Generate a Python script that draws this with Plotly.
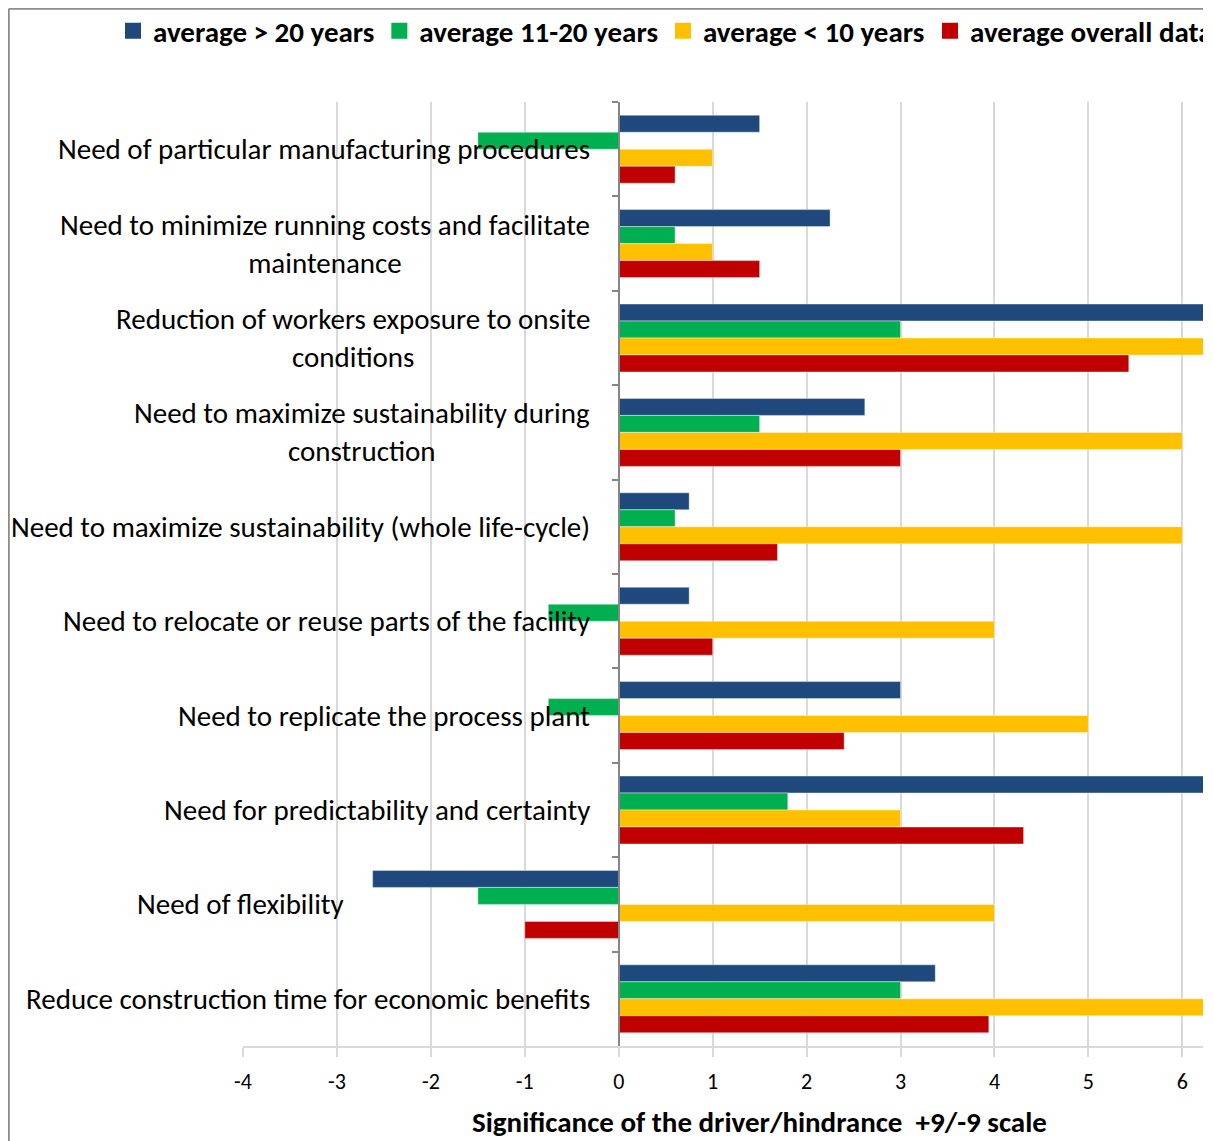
import plotly.graph_objects as go

# ---------------- data ----------------
categories = [
    "Need of particular manufacturing procedures",
    "Need to minimize running costs and facilitate maintenance",
    "Reduction of workers exposure to onsite conditions",
    "Need to maximize sustainability during construction",
    "Need to maximize sustainability (whole life-cycle)",
    "Need to relocate or reuse parts of the facility",
    "Need to replicate the process plant",
    "Need for predictability and certainty",
    "Need of flexibility",
    "Reduce construction time for economic benefits",
]
category_labels = [
    "Need of particular manufacturing procedures",
    "Need to minimize running costs and facilitate<br>maintenance",
    "Reduction of workers exposure to onsite<br>conditions",
    "Need to maximize sustainability during<br>construction",
    "Need to maximize sustainability (whole life-cycle)",
    "Need to relocate or reuse parts of the facility",
    "Need to replicate the process plant",
    "Need for predictability and certainty",
    "Need of flexibility",
    "Reduce construction time for economic benefits",
]
series_names = ["average > 20 years", "average 11-20 years", "average < 10 years", "average overall data"]
avg_over_20 = [1.5, 2.25, 7.0, 2.62, 0.75, 0.75, 3.0, 7.0, -2.62, 3.37]
avg_11_20 = [-1.5, 0.6, 3.0, 1.5, 0.6, -0.75, -0.75, 1.8, -1.5, 3.0]
avg_under_10 = [1.0, 1.0, 7.0, 6.0, 6.0, 4.0, 5.0, 3.0, 4.0, 7.0]
avg_overall = [0.6, 1.5, 5.43, 3.0, 1.69, 1.0, 2.4, 4.31, -1.0, 3.94]
x_ticks = [-4, -3, -2, -1, 0, 1, 2, 3, 4, 5, 6]
x_title = "Significance of the driver/hindrance  +9/-9 scale"

# ---------------- style ----------------
colors = ["#1F497D", "#00B050", "#FFC000", "#C00000"]
legend_ids = ["legend", "legend", "legend", "legend2"]
FONT = "Calibri, Carlito, Lato, sans-serif"
OFF = 8  # default page body margin
W, H = 1214 - OFF, 1141 - OFF
ML, MR, MT, MB = 243 - OFF, 11, 102 - OFF, 95
XMIN, XMAX = -4, 6.22
label_xshift = {"Need of flexibility": -273}
pw = W - ML - MR
ph = H - MT - MB


def px_x(page_x):
    return (page_x - OFF - ML) / pw


def px_y(page_y):
    return 1 - (page_y - OFF - MT) / ph


fig = go.Figure()
for name, vals, col in zip(series_names, [avg_over_20, avg_11_20, avg_under_10, avg_overall], colors):
    fig.add_trace(go.Bar(
        y=categories, x=vals, name=name, orientation="h", showlegend=False,
        marker=dict(color=col, line=dict(color="rgba(255,255,255,0.5)", width=0.8)),
    ))
# legend entries (larger square keys, as in the original)
for name, col, lg in zip(series_names, colors, legend_ids):
    fig.add_trace(go.Scatter(
        x=[None], y=[None], mode="markers", name=name, legend=lg, showlegend=True,
        marker=dict(symbol="square", size=16, color=col), hoverinfo="skip",
    ))

zero_pos = (0 - XMIN) / (XMAX - XMIN)
legend_font = dict(family=FONT, size=29, color="black", weight="bold")
legend_y = 1 - (31 - OFF) / H

fig.update_layout(
    width=W, height=H,
    margin=dict(l=ML, r=MR, t=MT, b=MB, pad=0),
    paper_bgcolor="white", plot_bgcolor="white",
    barmode="group", bargap=0.28, bargroupgap=0,
    font=dict(family=FONT, color="black"),
    showlegend=True,
    legend=dict(
        orientation="h", x=(113 - OFF) / W, xanchor="left", xref="container",
        y=legend_y, yanchor="middle", yref="container",
        font=legend_font, traceorder="normal", borderwidth=0,
        bgcolor="rgba(0,0,0,0)", itemsizing="trace",
    ),
    legend2=dict(
        orientation="h", x=(930 - OFF) / W, xanchor="left", xref="container",
        y=legend_y, yanchor="middle", yref="container",
        font=legend_font, borderwidth=0, entrywidth=228,
        bgcolor="rgba(0,0,0,0)", itemsizing="trace",
    ),
    xaxis=dict(
        range=[XMIN, XMAX], tickvals=x_ticks, ticktext=[str(v) for v in x_ticks],
        showgrid=True, gridcolor="#D9D9D9", gridwidth=1.5,
        showline=True, linecolor="#D9D9D9", linewidth=1.5,
        ticks="outside", ticklen=9, tickcolor="#D9D9D9", tickwidth=1.5,
        ticklabelstandoff=6,
        tickfont=dict(family=FONT, size=22, color="black"),
        zeroline=False, fixedrange=True,
    ),
    yaxis=dict(
        type="category", autorange="reversed",
        anchor="free", position=zero_pos,
        showline=True, linecolor="#868686", linewidth=1.5,
        ticks="outside", ticklen=6, tickcolor="#868686", tickwidth=1.5,
        tickson="boundaries", showticklabels=False, showgrid=False,
        zeroline=False,
    ),
)

# category labels, centred multi-line text right-aligned next to the zero axis
for cat, lab in zip(categories, category_labels):
    fig.add_annotation(
        x=0, y=cat, xref="x", yref="y", text=lab, showarrow=False,
        xanchor="right", yanchor="middle", align="center",
        xshift=label_xshift.get(cat, -27),
        font=dict(family=FONT, size=29, color="black"),
    )

# axis title
fig.add_annotation(
    x=px_x(759), y=px_y(1122), xref="paper", yref="paper",
    text="<b>" + x_title + "</b>", showarrow=False, xanchor="center", yanchor="middle",
    font=dict(family=FONT, size=29, color="black"),
)

# chart-area border (left and top edges visible in the crop)
bx = px_x(OFF + 0.8)
by = px_y(OFF + 0.8)
fig.add_shape(type="line", xref="paper", yref="paper", x0=bx, x1=bx, y0=by, y1=-0.2,
              line=dict(color="#8C8C8C", width=2))
fig.add_shape(type="line", xref="paper", yref="paper", x0=bx, x1=1, y0=by, y1=by,
              line=dict(color="#8C8C8C", width=2))

fig.write_html("out.html")
